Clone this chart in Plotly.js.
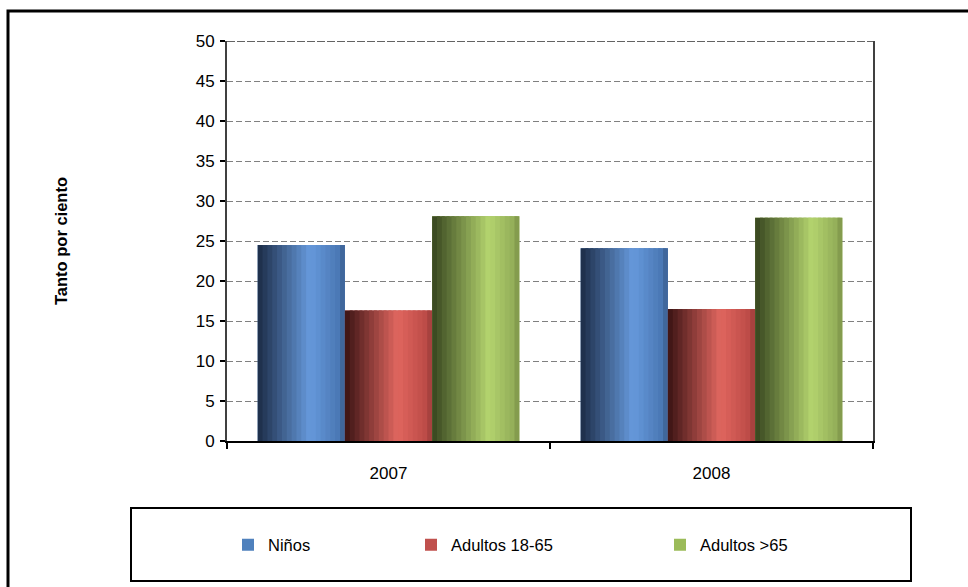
<!DOCTYPE html>
<html>
<head>
<meta charset="utf-8">
<script src="https://cdn.plot.ly/plotly-3.0.1.min.js"></script>
<style>html,body{margin:0;padding:0;background:#fff;}#chart{width:968px;height:587px;}</style>
</head>
<body>
<div id="chart"></div>
<script>
// ---- data ----
const categories = ['2007', '2008'];
const seriesNames = ['Niños', 'Adultos 18-65', 'Adultos >65'];
const ninos = [24.5, 24.1];
const adultos1865 = [16.3, 16.5];
const adultos65 = [28.1, 27.9];
const yTicks = [0, 5, 10, 15, 20, 25, 30, 35, 40, 45, 50];

// ---- style ----
const baseColors = ['#4F81BD', '#C0504D', '#9BBB59'];
const gradStops = [
  [[0, '#1C2C46'], [0.6, '#6699DC'], [0.93, '#4A78B4'], [1, '#3A5C8C']],
  [[0, '#3A1313'], [0.6, '#E0665F'], [0.93, '#BC4B47'], [1, '#9A3C3A']],
  [[0, '#37451F'], [0.65, '#B4D46E'], [0.93, '#93AE59'], [1, '#7A9046']]
];
const seriesValues = [ninos, adultos1865, adultos65];
const barW = 0.27, groupStart = -0.405, N = 18;
const FONT = 'Arial, Liberation Sans, sans-serif';

function hex2rgb(h){ return [1,3,5].map(i => parseInt(h.substr(i,2),16)); }
function colorAt(stops, t){
  for (let i = 0; i < stops.length - 1; i++){
    const [t0, c0] = stops[i], [t1, c1] = stops[i+1];
    if (t >= t0 && t <= t1){
      const f = (t - t0) / (t1 - t0);
      const a = hex2rgb(c0), b = hex2rgb(c1);
      const c = a.map((v, j) => Math.round(v + (b[j] - v) * f));
      return 'rgb(' + c.join(',') + ')';
    }
  }
  return stops[stops.length-1][1];
}

const traces = [];
const legendIds = ['legend', 'legend2', 'legend3'];
seriesValues.forEach((vals, s) => {
  traces.push({
    type: 'bar', x: categories, y: vals, name: seriesNames[s],
    width: barW, offset: groupStart + s * barW,
    marker: {color: baseColors[s], line: {width: 0}},
    legend: legendIds[s], showlegend: true, hoverinfo: 'skip'
  });
  for (let k = 0; k < N; k++){
    const t = (k + 0.5) / N;
    const w = barW / N;
    traces.push({
      type: 'bar', x: categories, y: vals,
      width: k < N - 1 ? w * 1.6 : w, offset: groupStart + s * barW + k * w,
      marker: {color: colorAt(gradStops[s], t), line: {width: 0}},
      showlegend: false, hoverinfo: 'skip'
    });
  }
});

const px = v => (v - 227) / 646;
const py = v => (441 - v) / 400;

const legendCommon = {
  orientation: 'h', yanchor: 'middle', xanchor: 'left', y: py(545),
  bgcolor: 'rgba(0,0,0,0)', borderwidth: 0,
  font: {family: FONT, size: 16.5, color: '#000'},
  itemwidth: 30, tracegroupgap: 0
};

const layout = {
  width: 968, height: 587,
  margin: {l: 227, r: 95, t: 41, b: 146},
  paper_bgcolor: '#fff', plot_bgcolor: '#fff',
  font: {family: FONT, size: 17, color: '#000'},
  barmode: 'overlay',
  showlegend: true,
  legend: Object.assign({}, legendCommon, {x: px(228)}),
  legend2: Object.assign({}, legendCommon, {x: px(411)}),
  legend3: Object.assign({}, legendCommon, {x: px(660)}),
  xaxis: {
    type: 'category', range: [-0.5, 1.5],
    showline: true, linecolor: '#000', linewidth: 2,
    ticks: 'outside', tickson: 'boundaries', ticklen: 6, tickcolor: '#000', tickwidth: 1.5,
    showgrid: false, zeroline: false,
    tickfont: {size: 17}, ticklabelstandoff: 16, fixedrange: true
  },
  yaxis: {
    range: [0, 50], tickvals: yTicks, ticktext: yTicks.map(String),
    showline: true, linecolor: '#404040', linewidth: 2, mirror: true,
    ticks: 'outside', ticklen: 5, tickcolor: '#000', tickwidth: 1.5,
    showgrid: true, gridcolor: '#808080', gridwidth: 1, griddash: '6px,3px',
    zeroline: false, tickfont: {size: 17}, ticklabelstandoff: 2,
    title: {text: 'Tanto por ciento', font: {size: 16.5, family: FONT, weight: 'bold'}, standoff: 124},
    automargin: false, fixedrange: true
  },
  shapes: [
    {type: 'line', xref: 'paper', yref: 'y', x0: 0, x1: 1, y0: yTicks[yTicks.length-1], y1: yTicks[yTicks.length-1],
     line: {color: '#303030', width: 1.5, dash: '8px,2px'}, layer: 'above'},
    {type: 'rect', xref: 'paper', yref: 'paper', x0: px(131), x1: px(911), y0: py(581), y1: py(508),
     line: {color: '#000', width: 2}, fillcolor: 'rgba(0,0,0,0)', layer: 'above'},
    {type: 'rect', xref: 'paper', yref: 'paper', x0: px(8), x1: px(1100), y0: py(700), y1: py(11),
     line: {color: '#000', width: 3}, fillcolor: 'rgba(0,0,0,0)', layer: 'above'}
  ]
};

Plotly.newPlot('chart', traces, layout, {displayModeBar: false, staticPlot: true});
</script>
</body>
</html>
